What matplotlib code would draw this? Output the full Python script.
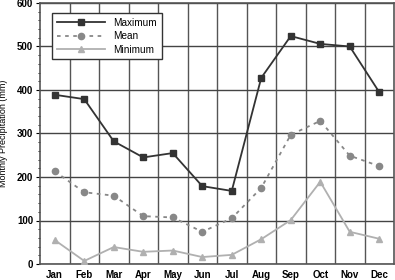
import matplotlib
matplotlib.use("Agg")
import matplotlib.pyplot as plt
from matplotlib.ticker import MultipleLocator, FixedLocator

months = ["Jan", "Feb", "Mar", "Apr", "May", "Jun", "Jul", "Aug", "Sep", "Oct", "Nov", "Dec"]
maximum = [389, 379, 282, 245, 255, 179, 168, 428, 524, 506, 500, 395]
mean = [213, 165, 157, 110, 107, 74, 105, 175, 297, 329, 249, 225]
minimum = [55, 7, 39, 28, 31, 16, 21, 57, 101, 189, 74, 58]

plt.rcParams['font.family'] = ['Liberation Sans', 'DejaVu Sans']

fig = plt.figure(figsize=(3.95, 2.8), dpi=100)
ax = fig.add_axes([40/395, 16/280, 354/395, 261/280])
x = list(range(1, 13))

ax.plot(x, maximum, color="#333333", marker="s", markersize=4.5, lw=1.3, label="Maximum", zorder=5)
ax.plot(x, mean, color="#888888", marker="o", markersize=4.5, lw=1.3, ls=(0, (2, 2.5)), label="Mean", zorder=5)
ax.plot(x, minimum, color="#b0b0b0", marker="^", markersize=4.5, lw=1.3, label="Minimum", zorder=5)

ax.set_xlim(0.5, 12.5)
ax.set_ylim(0, 600)
ax.set_xticks(x)
ax.set_xticklabels(months)
ax.yaxis.set_major_locator(MultipleLocator(100))
ax.yaxis.set_minor_locator(MultipleLocator(20))
ax.xaxis.set_minor_locator(FixedLocator([i + 0.5 for i in range(1, 12)]))
ax.tick_params(axis='x', which='major', length=0, labelsize=7, pad=4)
ax.tick_params(axis='x', which='minor', length=0)
ax.tick_params(axis='y', which='major', length=3, labelsize=7, pad=2)
ax.tick_params(axis='y', which='minor', length=1.5)
for lab in ax.get_xticklabels() + ax.get_yticklabels():
    lab.set_fontweight('bold')

ax.grid(True, axis='y', which='major', color="#444444", lw=1)
ax.grid(True, axis='x', which='minor', color="#555555", lw=1)
ax.set_axisbelow(True)
for s in ax.spines.values():
    s.set_color("#555555")
    s.set_linewidth(1.2)

ax.set_ylabel("Monthly Precipitation (mm)", fontsize=6.5, labelpad=6)

leg = ax.legend(loc="upper left", bbox_to_anchor=(0.02, 0.98), fontsize=7.2, frameon=True,
                fancybox=False, edgecolor="#333333", framealpha=1, handlelength=4.8,
                borderpad=0.45, labelspacing=0.35, handletextpad=0.9)
leg.get_frame().set_linewidth(1)

fig.savefig("out.png", dpi=100)
